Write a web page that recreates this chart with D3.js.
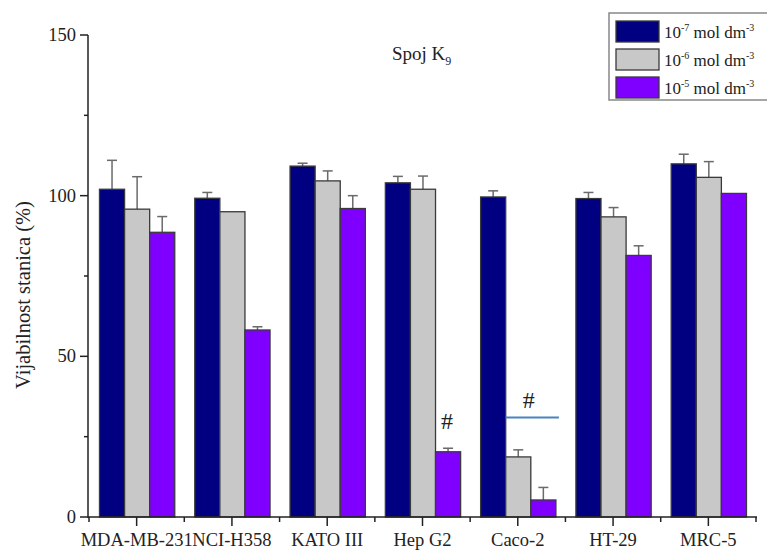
<!DOCTYPE html>
<html><head><meta charset="utf-8">
<script src="https://cdn.jsdelivr.net/npm/d3@7"></script>
<style>body{margin:0;background:#fff;}svg{display:block;font-family:"Liberation Serif","Times New Roman",serif;}</style>
</head><body>
<svg id="chart" width="767" height="550"></svg>
<script>
const categories = ["MDA-MB-231","NCI-H358","KATO III","Hep G2","Caco-2","HT-29","MRC-5"];
const seriesNames = ["1e-7","1e-6","1e-5"];
const seriesExp = ["-7","-6","-5"];
const values7 = [102, 99.2, 109.2, 104, 99.6, 99.1, 109.9];
const errors7 = [9, 1.8, 0.9, 2, 1.9, 1.9, 3];
const values6 = [95.8, 95.0, 104.6, 102, 18.7, 93.4, 105.7];
const errors6 = [10.1, 0, 3.1, 4.1, 2.2, 2.9, 4.9];
const values5 = [88.6, 58.2, 96, 20.3, 5.3, 81.4, 100.7];
const errors5 = [4.9, 1, 4, 1.1, 3.9, 3, 0];
const yTicks = [0, 50, 100, 150];
const yMinorTicks = [25, 75, 125];
const colors = ["#000080", "#c8c8c8", "#8000ff"];

const svg = d3.select("#chart");
const pLeft = 88, pRight = 756, pTop = 35, pBottom = 517;

const y = d3.scaleLinear().domain([0,150]).range([pBottom, pTop]);
const x0 = d3.scaleBand().domain(categories).range([pLeft+1, pRight]).padding(0);
const bw = x0.bandwidth();
const x1 = d3.scaleBand().domain(seriesNames).range([bw*0.11, bw*0.9]).padding(0);

const allVals = [values7, values6, values5];
const allErr = [errors7, errors6, errors5];
const data = [];
categories.forEach((c,i)=>{
  seriesNames.forEach((s,j)=>{
    data.push({cat:c, ser:s, j:j, v:allVals[j][i], e:allErr[j][i]});
  });
});

// error bars
const eg = svg.append("g").attr("stroke","#6a6a6a").attr("stroke-width",1.5);
data.filter(d=>d.e>0).forEach(d=>{
  const cx = x0(d.cat)+x1(d.ser)+x1.bandwidth()/2;
  eg.append("line").attr("x1",cx).attr("x2",cx).attr("y1",y(d.v)).attr("y2",y(d.v+d.e));
  eg.append("line").attr("x1",cx-5).attr("x2",cx+5).attr("y1",y(d.v+d.e)).attr("y2",y(d.v+d.e));
});

// bars
svg.append("g").selectAll("rect").data(data).join("rect")
  .attr("x", d=>x0(d.cat)+x1(d.ser))
  .attr("y", d=>y(d.v))
  .attr("width", x1.bandwidth())
  .attr("height", d=>y(0)-y(d.v))
  .attr("fill", d=>colors[d.j])
  .attr("stroke","#3a3a3a").attr("stroke-width",1.3);

// y axis
const ya = svg.append("g");
ya.append("line").attr("x1",pLeft).attr("x2",pLeft).attr("y1",pTop).attr("y2",pBottom+1).attr("stroke","#222").attr("stroke-width",1.5);
yTicks.forEach(t=>{
  ya.append("line").attr("x1",pLeft-8).attr("x2",pLeft).attr("y1",y(t)).attr("y2",y(t)).attr("stroke","#222").attr("stroke-width",1.5);
  ya.append("text").attr("x",pLeft-12).attr("y",y(t)+6).attr("text-anchor","end").attr("font-size",18.5).attr("fill","#222").text(t);
});
yMinorTicks.forEach(t=>{
  ya.append("line").attr("x1",pLeft-4).attr("x2",pLeft).attr("y1",y(t)).attr("y2",y(t)).attr("stroke","#222").attr("stroke-width",1.5);
});

// x axis
const xa = svg.append("g");
xa.append("line").attr("x1",pLeft).attr("x2",pRight+1).attr("y1",pBottom).attr("y2",pBottom).attr("stroke","#222").attr("stroke-width",1.5);
categories.forEach((c,i)=>{
  const cx = x0(c)+bw/2;
  xa.append("line").attr("x1",cx).attr("x2",cx).attr("y1",pBottom).attr("y2",pBottom+9).attr("stroke","#222").attr("stroke-width",1.5);
  xa.append("text").attr("x",cx).attr("y",pBottom+29).attr("text-anchor","middle").attr("font-size",18.5).attr("fill","#222").text(c);
});
categories.concat(["_end"]).forEach((c,i)=>{
  const xx = i < categories.length ? x0(c) : pRight;
  xa.append("line").attr("x1",xx).attr("x2",xx).attr("y1",pBottom).attr("y2",pBottom+5).attr("stroke","#222").attr("stroke-width",1.5);
});

// y axis title
svg.append("text").attr("transform","translate(30,295) rotate(-90)")
  .attr("text-anchor","middle").attr("font-size",20.5).attr("fill","#222").text("Vijabilnost stanica (%)");

// chart title
const tt = svg.append("text").attr("x",392).attr("y",60).attr("font-size",19).attr("fill","#222");
tt.append("tspan").text("Spoj K");
tt.append("tspan").attr("font-size",12).attr("dy",5).text("9");

// significance marks
const hepX = x0("Hep G2")+x1("1e-5")+x1.bandwidth()/2;
svg.append("text").attr("x",hepX-1).attr("y",y(values5[3])-23).attr("text-anchor","middle").attr("font-size",24).attr("fill","#222").text("#");
const cacoX = x0("Caco-2");
svg.append("line").attr("x1",cacoX+x1("1e-6")).attr("x2",cacoX+x1("1e-5")+x1.bandwidth()+3)
  .attr("y1",y(31)).attr("y2",y(31)).attr("stroke","#4a82c4").attr("stroke-width",2);
svg.append("text").attr("x",cacoX+x1("1e-6")+x1.bandwidth()-2).attr("y",y(31)-9).attr("text-anchor","middle").attr("font-size",24).attr("fill","#222").text("#");

// legend
const lg = svg.append("g");
lg.append("rect").attr("x",609).attr("y",13).attr("width",160).attr("height",87).attr("fill","#fff").attr("stroke","#888").attr("stroke-width",1.5);
seriesExp.forEach((ex,j)=>{
  const yy = 21 + j*28;
  lg.append("rect").attr("x",616).attr("y",yy).attr("width",43).attr("height",21).attr("fill",colors[j]).attr("stroke","#3a3a3a").attr("stroke-width",1.3);
  const t = lg.append("text").attr("x",664).attr("y",yy+17).attr("font-size",17).attr("fill","#222");
  t.append("tspan").text("10");
  t.append("tspan").attr("font-size",10).attr("dy",-7).text(ex);
  t.append("tspan").attr("dy",7).text(" mol dm");
  t.append("tspan").attr("font-size",10).attr("dy",-7).text("-3");
});
</script>
</body></html>
